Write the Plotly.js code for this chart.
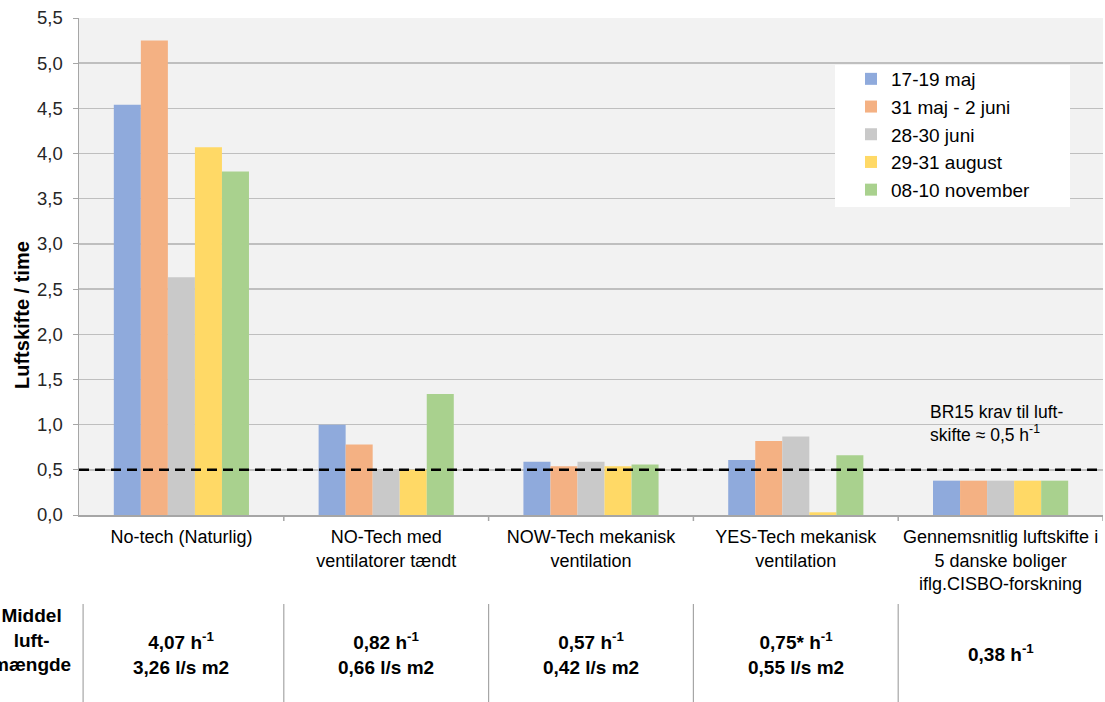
<!DOCTYPE html>
<html>
<head>
<meta charset="utf-8">
<script src="https://cdn.plot.ly/plotly-3.0.1.min.js"></script>
<style>html,body{margin:0;padding:0;background:#fff;}#chart{width:1105px;height:702px;}</style>
</head>
<body>
<div id="chart"></div>
<script>
// ---- data ----
const categories = [
  "No-tech (Naturlig)",
  "NO-Tech med<br>ventilatorer tændt",
  "NOW-Tech mekanisk<br>ventilation",
  "YES-Tech mekanisk<br>ventilation",
  "Gennemsnitlig luftskifte i<br>5 danske boliger<br>iflg.CISBO-forskning"
];
const seriesNames = ["17-19 maj", "31 maj - 2 juni", "28-30 juni", "29-31 august", "08-10 november"];
const seriesColors = ["#8faadc", "#f4b183", "#c9c9c9", "#ffd966", "#a9d18e"];
const may17 = [4.54, 1.00, 0.59, 0.61, 0.38];
const may31 = [5.25, 0.78, 0.54, 0.82, 0.38];
const jun28 = [2.63, 0.50, 0.59, 0.87, 0.38];
const aug29 = [4.07, 0.50, 0.54, 0.03, 0.38];
const nov08 = [3.80, 1.34, 0.56, 0.66, 0.38];
const seriesValues = [may17, may31, jun28, aug29, nov08];
const requirement = 0.5;
const requirementText = "BR15 krav til luft-<br>skifte ≈ 0,5 h<sup>-1</sup>";
const yTitle = "Luftskifte / time";
const tableHeader = "Middel<br>luft-<br>mængde";
const tableRow1 = ["4,07 h<sup>-1</sup>", "0,82 h<sup>-1</sup>", "0,57 h<sup>-1</sup>", "0,75* h<sup>-1</sup>", "0,38 h<sup>-1</sup>"];
const tableRow2 = ["3,26 l/s m2", "0,66 l/s m2", "0,42 l/s m2", "0,55 l/s m2", ""];
const yTicks = [0, 0.5, 1, 1.5, 2, 2.5, 3, 3.5, 4, 4.5, 5, 5.5];

// ---- layout helpers ----
const W = 1105, H = 702;
const mL = 79, mR = 2, mT = 18, mB = 187;
const plotH = H - mT - mB;
const plotW = W - mL - mR;
const py = p => (H - mB - p) / plotH;   // pixel y -> paper y
const px = p => (p - mL) / plotW;       // pixel x -> paper x
const idx = categories.map((c, i) => i);
const FONT = "Liberation Sans, Arial, sans-serif";

const traces = seriesNames.map((n, k) => ({
  type: "bar",
  name: n,
  x: idx,
  y: seriesValues[k],
  marker: {color: seriesColors[k], line: {width: 0}},
  legendgroup: "g" + k,
  hoverinfo: "y"
}));

const annotations = [];
annotations.push({
  xref: "paper", yref: "paper", x: px(928), y: py(423), xanchor: "left", yanchor: "middle",
  text: requirementText, showarrow: false, align: "left",
  font: {family: FONT, size: 17.5, color: "#000"}
});
annotations.push({
  xref: "paper", yref: "paper", x: px(22), y: py(315), xanchor: "center", yanchor: "middle",
  text: "<b>" + yTitle + "</b>", showarrow: false, textangle: -90,
  font: {family: FONT, size: 20, color: "#000"}
});
annotations.push({
  xref: "paper", yref: "paper", x: px(31), y: py(640), xanchor: "center", yanchor: "middle",
  text: "<b>" + tableHeader + "</b>", showarrow: false, align: "center",
  font: {family: FONT, size: 19, color: "#000"}
});
idx.forEach(i => {
  const txt = tableRow2[i] ? "<b>" + tableRow1[i] + "<br>" + tableRow2[i] + "</b>" : "<b>" + tableRow1[i] + "</b>";
  annotations.push({
    xref: "x", yref: "paper", x: i, y: py(653), xanchor: "center", yanchor: "middle",
    text: txt, showarrow: false, align: "center",
    font: {family: FONT, size: 19, color: "#000"}
  });
});

const shapes = [];
shapes.push({
  type: "line", xref: "paper", yref: "y", x0: 0, x1: 1, y0: requirement, y1: requirement,
  line: {color: "#000", width: 2.5, dash: "10px,6px"}, layer: "above"
});
// legend box
shapes.push({
  type: "rect", xref: "paper", yref: "paper", x0: px(835), x1: px(1070), y0: py(207), y1: py(65),
  fillcolor: "#ffffff", line: {width: 0}, layer: "above"
});
// table separators
[-0.48, 0.5, 1.5, 2.5, 3.5].forEach(b => {
  shapes.push({
    type: "line", xref: "x", yref: "paper", x0: b, x1: b, y0: py(604), y1: py(702),
    line: {color: "#a6a6a6", width: 1.2}
  });
});
// category boundary tick marks on x axis
[0.5, 1.5, 2.5, 3.5, 4.5].forEach(b => {
  shapes.push({
    type: "line", xref: "x", yref: "paper", x0: b, x1: b, y0: 0, y1: py(521),
    line: {color: "#a6a6a6", width: 1.5}
  });
});

const layout = {
  width: W, height: H,
  margin: {l: mL, r: mR, t: mT, b: mB},
  paper_bgcolor: "#ffffff",
  plot_bgcolor: "#f2f2f2",
  separators: ",.",
  barmode: "group",
  bargap: 0.34,
  bargroupgap: 0,
  font: {family: FONT, size: 16, color: "#262626"},
  showlegend: true,
  legend: {
    x: px(851), y: py(60), xanchor: "left", yanchor: "top",
    bgcolor: "rgba(0,0,0,0)", borderwidth: 0,
    font: {size: 19, color: "#000"},
    tracegroupgap: 3.8, itemwidth: 30, traceorder: "normal"
  },
  xaxis: {
    type: "linear",
    range: [-0.5, 4.5],
    tickmode: "array",
    tickvals: idx,
    ticktext: categories,
    ticks: "",
    ticklabelstandoff: 5,
    showgrid: false,
    zeroline: false,
    showline: true, linecolor: "#a6a6a6", linewidth: 1.5,
    tickfont: {size: 18, color: "#000"},
    fixedrange: true
  },
  yaxis: {
    range: [0, 5.5],
    tickmode: "array",
    tickvals: yTicks,
    tickformat: ".1f",
    ticks: "outside", ticklen: 5, tickcolor: "#a6a6a6",
    ticklabelstandoff: 6,
    showline: true, linecolor: "#a6a6a6", linewidth: 1.5,
    gridcolor: "#bfbfbf", gridwidth: 1.5,
    zeroline: false,
    tickfont: {size: 18.5, color: "#262626"},
    fixedrange: true
  },
  annotations: annotations,
  shapes: shapes
};

Plotly.newPlot("chart", traces, layout, {displayModeBar: false, staticPlot: true});
</script>
</body>
</html>
